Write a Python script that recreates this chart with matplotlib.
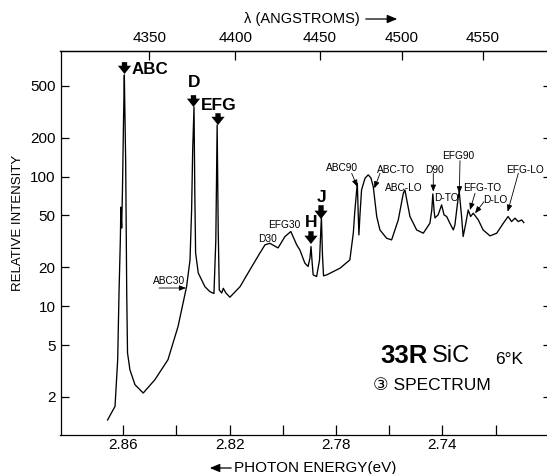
import numpy as np
import matplotlib
matplotlib.use("Agg")
import matplotlib.pyplot as plt
from matplotlib.ticker import FixedLocator, FixedFormatter, NullLocator, NullFormatter

# ---------------- data ----------------
energy_ev = [2.8659, 2.8631, 2.8621, 2.8616, 2.8611, 2.8609, 2.8606, 2.8603, 2.8599, 2.8596,
             2.8594, 2.8591, 2.8587, 2.8584, 2.8575, 2.8556, 2.8525, 2.8481, 2.8432, 2.8394,
             2.8362, 2.8349, 2.8343, 2.8339, 2.8334, 2.8331, 2.8328, 2.8318, 2.8293, 2.8274,
             2.8259, 2.8252, 2.8247, 2.8243, 2.8239, 2.8230, 2.8224, 2.8214, 2.8199, 2.8161,
             2.8124, 2.8086, 2.8067, 2.8049, 2.8018, 2.7992, 2.7970, 2.7948, 2.7936, 2.7917,
             2.7905, 2.7898, 2.7894, 2.7890, 2.7886, 2.7873, 2.7862, 2.7855, 2.7851, 2.7847,
             2.7835, 2.7785, 2.7748, 2.7735, 2.7729, 2.7720, 2.7717, 2.7714, 2.7710, 2.7704,
             2.7691, 2.7679, 2.7669, 2.7660, 2.7647, 2.7635, 2.7610, 2.7591, 2.7566, 2.7547,
             2.7541, 2.7534, 2.7522, 2.7497, 2.7472, 2.7447, 2.7440, 2.7436, 2.7431, 2.7428,
             2.7416, 2.7403, 2.7394, 2.7384, 2.7372, 2.7359, 2.7353, 2.7344, 2.7337, 2.7328,
             2.7322, 2.7312, 2.7303, 2.7294, 2.7284, 2.7265, 2.7247, 2.7221, 2.7196, 2.7171,
             2.7153, 2.7140, 2.7127, 2.7115, 2.7102, 2.7094]
intensity = [1.32, 1.68, 3.85, 12.6, 32.4, 58, 40, 79, 273, 608,
             327, 134, 12.6, 4.35, 3.22, 2.47, 2.13, 2.70, 3.85, 6.95,
             14.1, 22.7, 55.2, 160, 344, 74.7, 25.7, 18.0, 14.1, 12.9,
             12.5, 32.4, 250, 38.7, 13.3, 12.6, 13.7, 12.6, 11.7, 14.1,
             19.0, 25.7, 29.7, 30.5, 28.1, 34.4, 37.6, 29.7, 27.1, 21.4,
             20.2, 23.5, 28.8, 21.9, 17.4, 16.9, 22.7, 49.0, 24.8, 17.1,
             17.4, 19.6, 22.7, 36.7, 55.2, 88.8, 55.2, 35.4, 50.6, 78.8,
             97.0, 103, 97.5, 83.6, 49.1, 38.7, 33.4, 32.4, 46.2, 74.3,
             78.8, 65.9, 49.1, 38.7, 36.5, 43.6, 55.2, 73.4, 53.3, 47.9,
             50.6, 60.4, 50.6, 49.1, 43.6, 38.7, 42.3, 60.4, 77.4, 49.1,
             34.4, 43.6, 55.2, 49.1, 52.1, 46.2, 38.7, 34.8, 36.5, 43.6,
             49.1, 44.9, 47.7, 44.9, 46.2, 44.1]

energy_ticks = [2.86, 2.84, 2.82, 2.80, 2.78, 2.76, 2.74, 2.72]
energy_tick_labels = ["2.86", "", "2.82", "", "2.78", "", "2.74", ""]
intensity_ticks = [2, 5, 10, 20, 50, 100, 200, 500]
intensity_tick_labels = ["2", "5", "10", "20", "50", "100", "200", "500"]
wavelength_ticks = [4350, 4400, 4450, 4500, 4550]
HC = 12398.4  # eV * Angstrom

FONT = ["Liberation Sans", "DejaVu Sans"]
plt.rcParams["font.family"] = FONT

fig = plt.figure(figsize=(5.47, 4.74), dpi=100)
ax = fig.add_axes([60.5 / 547, 39 / 474, 487.5 / 547, 384 / 474])

ax.plot(energy_ev, intensity, color="black", lw=0.95, solid_joinstyle="round")

ax.set_yscale("log")
ax.set_ylim(1.01, 931)
ax.set_xlim(2.8836, 2.7003)

for s in ax.spines.values():
    s.set_linewidth(0.9)

ax.xaxis.set_major_locator(FixedLocator(energy_ticks))
ax.xaxis.set_major_formatter(FixedFormatter(energy_tick_labels))
ax.xaxis.set_minor_locator(NullLocator())
ax.yaxis.set_major_locator(FixedLocator(intensity_ticks))
ax.yaxis.set_major_formatter(FixedFormatter(intensity_tick_labels))
ax.yaxis.set_minor_locator(NullLocator())
ax.tick_params(axis="x", direction="in", length=7, width=0.9, pad=2, labelsize=11)
ax.tick_params(axis="y", direction="in", length=6, width=0.9, pad=3.5, labelsize=11)

# top wavelength axis
sec = ax.secondary_xaxis("top", functions=(lambda e: HC / np.asarray(e, float),
                                           lambda l: HC / np.asarray(l, float)))
sec.xaxis.set_major_locator(FixedLocator(wavelength_ticks))
sec.xaxis.set_minor_locator(NullLocator())
sec.tick_params(direction="in", length=6.5, width=0.9, pad=4.5, labelsize=11)
sec.spines["top"].set_linewidth(0.9)

# right axis short ticks
secr = ax.secondary_yaxis("right")
secr.yaxis.set_major_locator(FixedLocator(intensity_ticks))
secr.yaxis.set_minor_locator(NullLocator())
secr.yaxis.set_major_formatter(NullFormatter())
secr.tick_params(direction="in", length=3.5, width=0.9)

# axis titles
fig.text(302 / 547, 1 - 19 / 474, "λ (ANGSTROMS)", ha="center", va="center", fontsize=10.5)
fig.add_artist(matplotlib.patches.FancyArrowPatch((363 / 547, 1 - 19 / 474), (400 / 547, 1 - 19 / 474),
               transform=fig.transFigure, arrowstyle="-|>,head_length=0.6,head_width=0.25",
               mutation_scale=10, color="black", lw=0.9))
fig.text(315 / 547, 1 - 468 / 474, "PHOTON ENERGY(eV)", ha="center", va="center", fontsize=11)
fig.add_artist(matplotlib.patches.FancyArrowPatch((234 / 547, 1 - 468 / 474), (207 / 547, 1 - 468 / 474),
               transform=fig.transFigure, arrowstyle="-|>,head_length=0.6,head_width=0.25",
               mutation_scale=10, color="black", lw=0.9))
fig.text(18 / 547, 1 - 223 / 474, "RELATIVE INTENSITY", rotation=90, ha="center", va="center",
         fontsize=9.5)

T = ax.transAxes

# big bold labels with thick arrows
big_labels = [("ABC", 0.146, 0.953, "left", 12.2),
              ("D", 0.2738, 0.9167, "center", 12.5),
              ("EFG", 0.3251, 0.859, "center", 12.5),
              ("H", 0.5149, 0.5534, "center", 12.5),
              ("J", 0.5344, 0.6172, "center", 12.5)]
for txt, x, y, ha, fs in big_labels:
    ax.text(x, y, txt, transform=T, ha=ha, va="center", fontsize=fs, fontweight="bold")

big_arrows = [(0.1313, 0.971, 0.940),
              (0.2728, 0.8850, 0.8542),
              (0.3231, 0.838, 0.807),
              (0.5138, 0.5306, 0.4974),
              (0.5344, 0.5984, 0.5625)]
for x, y0, y1 in big_arrows:
    ax.annotate("", xy=(x, y1), xytext=(x, y0), xycoords=T, textcoords=T,
                arrowprops=dict(arrowstyle="simple,head_length=0.6,head_width=0.95,tail_width=0.38",
                                fc="black", ec="black", lw=0, shrinkA=0, shrinkB=0,
                                mutation_scale=10))

# small labels with thin arrows
small_labels = [("ABC30", (0.2226, 0.4023), (0.2021, 0.3828), (0.2574, 0.3828)),
                ("D30", (0.4236, 0.5117), None, None),
                ("EFG30", (0.4585, 0.5469), None, None),
                ("ABC90", (0.5764, 0.6953), (0.5973, 0.6815), (0.6088, 0.6466)),
                ("ABC-TO", (0.6882, 0.6914), (0.6554, 0.6815), (0.6437, 0.6424)),
                ("ABC-LO", (0.7046, 0.644), None, None),
                ("D90", (0.7662, 0.6914), (0.7647, 0.6815), (0.7647, 0.6336)),
                ("EFG90", (0.816, 0.7266), (0.8195, 0.7143), (0.8181, 0.6294)),
                ("D-TO", (0.7908, 0.6164), None, None),
                ("EFG-TO", (0.8656, 0.6432), (0.8503, 0.6294), (0.84, 0.5859)),
                ("D-LO", (0.8913, 0.612), (0.8687, 0.6076), (0.8503, 0.5773)),
                ("EFG-LO", (0.9538, 0.6914), (0.9391, 0.6815), (0.9173, 0.5815))]
for txt, (x, y), a0, a1 in small_labels:
    ax.text(x, y, txt, transform=T, ha="center", va="center", fontsize=7.3)
    if a0 is not None:
        ax.annotate("", xy=a1, xytext=a0, xycoords=T, textcoords=T,
                    arrowprops=dict(arrowstyle="-|>,head_length=0.5,head_width=0.2",
                                    color="black", lw=0.6, shrinkA=0, shrinkB=0,
                                    mutation_scale=8))

# sample description
ax.text(0.6554, 0.2057, "33R", transform=T, ha="left", va="center", fontsize=18.5, fontweight="bold")
ax.text(0.7614, 0.2057, "SiC", transform=T, ha="left", va="center", fontsize=17)
ax.text(0.92, 0.1979, "6°K", transform=T, ha="center", va="center", fontsize=12.5)
ax.text(0.641, 0.1302, "③ SPECTRUM", transform=T, ha="left", va="center", fontsize=12.5,
        family=["Liberation Sans", "DejaVu Sans", "Noto Sans CJK SC"])

fig.savefig("out.png", dpi=100)
